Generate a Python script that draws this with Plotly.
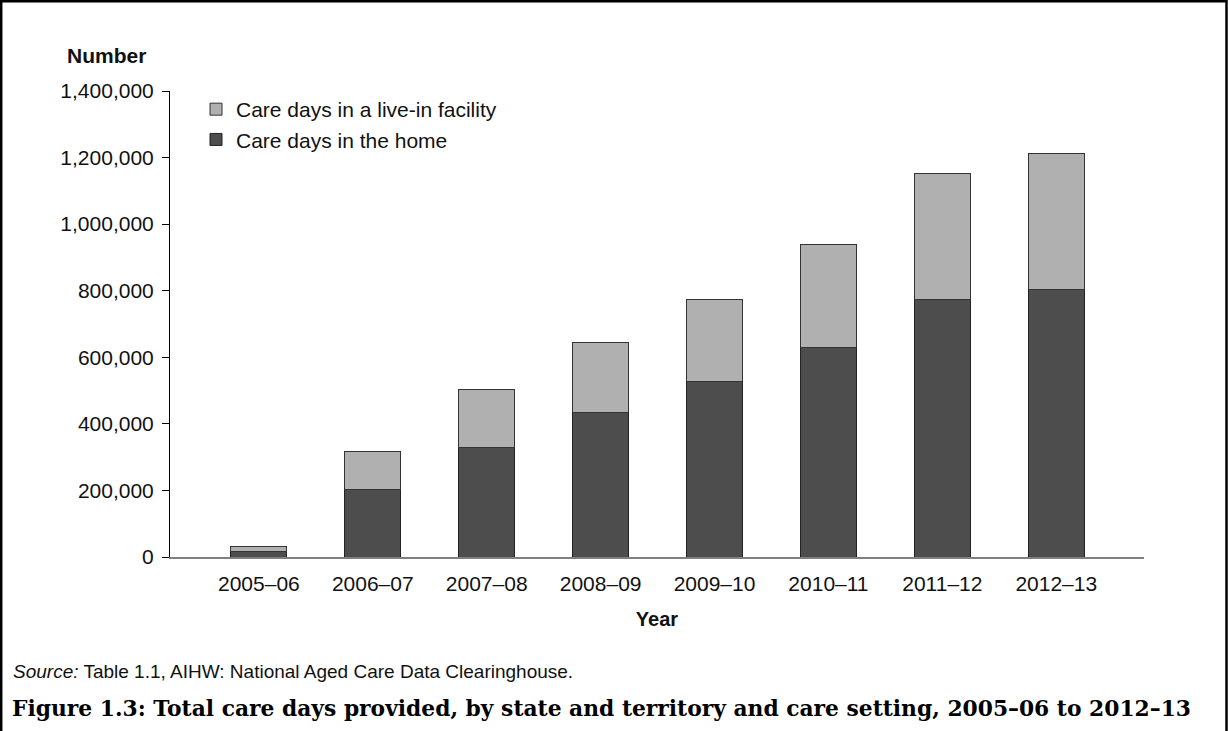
import plotly.graph_objects as go

years = ["2005–06", "2006–07", "2007–08", "2008–09", "2009–10", "2010–11", "2011–12", "2012–13"]
home_days = [17000, 203000, 329000, 435000, 528000, 629000, 774000, 803000]
facility_days = [16000, 115000, 173000, 209000, 247000, 310000, 379000, 409000]
y_ticks = [0, 200000, 400000, 600000, 800000, 1000000, 1200000, 1400000]

W, H = 1228, 731
L, R, T, B = 170, 1228 - 1144, 91, 731 - 557
pw, ph = W - L - R, H - T - B

def px(x):
    return (x - L) / pw

def py(y):
    return (H - B - y) / ph

FONT = "Liberation Sans, Arial, sans-serif"

fig = go.Figure()
fig.add_trace(go.Bar(
    x=years, y=home_days, name="Care days in the home",
    marker=dict(color="#4d4d4d", line=dict(color="#222222", width=1)),
    width=0.49,
))
fig.add_trace(go.Bar(
    x=years, y=facility_days, name="Care days in a live-in facility",
    marker=dict(color="#b0b0b0", line=dict(color="#333333", width=1)),
    width=0.49,
))

fig.update_layout(
    width=W, height=H,
    margin=dict(l=L, r=R, t=T, b=B, autoexpand=False),
    barmode="stack",
    paper_bgcolor="white", plot_bgcolor="white",
    font=dict(family=FONT, size=21, color="#111111"),
    showlegend=True,
    legend=dict(
        x=px(196), y=py(89), xanchor="left", yanchor="top",
        traceorder="reversed", font=dict(size=21, color="#111111"),
        bgcolor="rgba(0,0,0,0)", tracegroupgap=0,
    ),
    xaxis=dict(
        range=[-0.78, 7.77],
        showline=True, linecolor="#808080", linewidth=2,
        ticks="", showgrid=False, zeroline=False,
        ticklabelstandoff=7,
        tickfont=dict(size=21),
        title=dict(text="<b>Year</b>", font=dict(size=20), standoff=18),
    ),
    yaxis=dict(
        range=[0, 1400000],
        tickvals=y_ticks, tickformat=",d",
        showline=True, linecolor="#000000", linewidth=1,
        ticks="outside", ticklen=7, tickcolor="#000000", tickwidth=1,
        showgrid=False, zeroline=False,
        tickfont=dict(size=21),
        ticklabelstandoff=4,
    ),
    annotations=[
        dict(text="<b>Number</b>", xref="paper", yref="paper",
             x=px(65), y=py(55), xanchor="left", yanchor="middle",
             showarrow=False, font=dict(size=21)),
        dict(text="<i>Source:</i> Table 1.1, AIHW: National Aged Care Data Clearinghouse.",
             xref="paper", yref="paper", x=px(11), y=py(671),
             xanchor="left", yanchor="middle", showarrow=False,
             font=dict(size=19)),
        dict(text="<b>Figure 1.3: Total care days provided, by state and territory and care setting, 2005–06 to 2012–13</b>",
             xref="paper", yref="paper", x=px(10), y=py(708),
             xanchor="left", yanchor="middle", showarrow=False,
             font=dict(family="DejaVu Serif, serif", size=21.8, color="#000000")),
    ],
    shapes=[
        dict(type="rect", xref="paper", yref="paper",
             x0=px(1.2), x1=px(1226.5), y0=py(780), y1=py(1.2),
             line=dict(color="#000000", width=2.5), fillcolor="rgba(0,0,0,0)",
             layer="above"),
    ],
)

fig.write_html("out.html", config={"displayModeBar": False},
               post_script="document.body.style.margin='0';")
